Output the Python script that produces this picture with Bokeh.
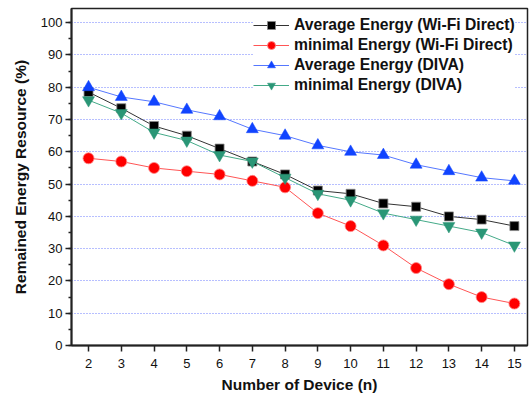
from bokeh.plotting import figure
from bokeh.models import FixedTicker, SingleIntervalTicker, Range1d, Legend, LegendItem
from bokeh.embed import file_html
from bokeh.resources import INLINE

devices = [2, 3, 4, 5, 6, 7, 8, 9, 10, 11, 12, 13, 14, 15]
avg_wifi = [78.5, 73.5, 68, 65, 61, 57, 53, 48, 47, 44, 43, 40, 39, 37]
min_wifi = [58, 57, 55, 54, 53, 51, 49, 41, 37, 31, 24, 19, 15, 13]
avg_diva = [80, 77, 75.5, 73, 71, 67, 65, 62, 60, 59, 56, 54, 52, 51]
min_diva = [76, 72, 66, 63.5, 59, 57, 52, 47, 45, 41, 39, 37, 35, 31]

FONT = "Liberation Sans"

p = figure(width=532, height=396, output_backend="svg", toolbar_location=None,
           x_range=Range1d(1.48, 15.4), y_range=Range1d(0, 104.4),
           min_border_left=71, min_border_right=5, min_border_top=8, min_border_bottom=51)

p.outline_line_color = "#222222"
p.outline_line_width = 1.5
p.background_fill_color = "white"
p.border_fill_color = "white"

p.xgrid.visible = False
p.ygrid.grid_line_color = "#6f7fff"
p.ygrid.grid_line_dash = "1 2"
p.ygrid.grid_line_width = 1

p.xaxis.ticker = FixedTicker(ticks=devices)
p.yaxis.ticker = SingleIntervalTicker(interval=10, num_minor_ticks=2)

for ax in (p.xaxis[0], p.yaxis[0]):
    ax.axis_line_width = 2
    ax.axis_line_color = "#222222"
    ax.major_tick_line_color = "#222222"
    ax.major_tick_line_width = 1.5
    ax.major_tick_out = 6
    ax.major_tick_in = 0
    ax.minor_tick_line_color = "#222222"
    ax.minor_tick_line_width = 1.5
    ax.minor_tick_out = 3
    ax.minor_tick_in = 0
    ax.major_label_text_font = FONT
    ax.major_label_text_font_size = "13px"
    ax.major_label_text_color = "#111111"
    ax.axis_label_text_font = FONT
    ax.axis_label_text_font_style = "bold"
    ax.axis_label_text_font_size = "15.5px"
    ax.axis_label_text_color = "#111111"

p.xaxis.minor_tick_line_color = None
p.xaxis.major_label_standoff = 7
p.yaxis.major_label_standoff = 3
p.xaxis.axis_label = "Number of Device (n)"
p.yaxis.axis_label = "Remained Energy Resource (%)"
p.xaxis.axis_label_standoff = 5
p.yaxis.axis_label_standoff = 9

r1l = p.line(devices, avg_wifi, line_color="#333333", line_width=1)
r1m = p.scatter(devices, avg_wifi, marker="square", size=9, fill_color="black", line_color="#888888", line_width=0.8)
r2l = p.line(devices, min_wifi, line_color="#ff5555", line_width=1)
r2m = p.scatter(devices, min_wifi, marker="circle", size=11, fill_color="#ff0000", line_color="#ff8888", line_width=0.8)
r3l = p.line(devices, avg_diva, line_color="#5577ff", line_width=1)
r3m = p.scatter(devices, avg_diva, marker="triangle", size=12, fill_color="#1144ff", line_color="#1144ff", line_width=0.5)
r4l = p.line(devices, min_diva, line_color="#44aa88", line_width=1)
r4m = p.scatter(devices, min_diva, marker="inverted_triangle", size=12, fill_color="#2a9676", line_color="#2a9676", line_width=0.5)

legend = Legend(items=[
    LegendItem(label="Average Energy (Wi-Fi Direct)", renderers=[r1l, r1m]),
    LegendItem(label="minimal Energy (Wi-Fi Direct)", renderers=[r2l, r2m]),
    LegendItem(label="Average Energy (DIVA)", renderers=[r3l, r3m]),
    LegendItem(label="minimal Energy (DIVA)", renderers=[r4l, r4m]),
], location=(182, 250))
legend.border_line_color = None
legend.background_fill_color = "white"
legend.background_fill_alpha = 1
legend.label_text_font = FONT
legend.label_text_font_style = "bold"
legend.label_text_font_size = "15.7px"
legend.label_text_color = "#111111"
legend.glyph_width = 36
legend.glyph_height = 20
legend.label_height = 20
legend.label_standoff = 5
legend.spacing = 0
legend.padding = 4
legend.margin = 0
p.add_layout(legend)

open("out.html", "w").write(file_html(p, INLINE))
